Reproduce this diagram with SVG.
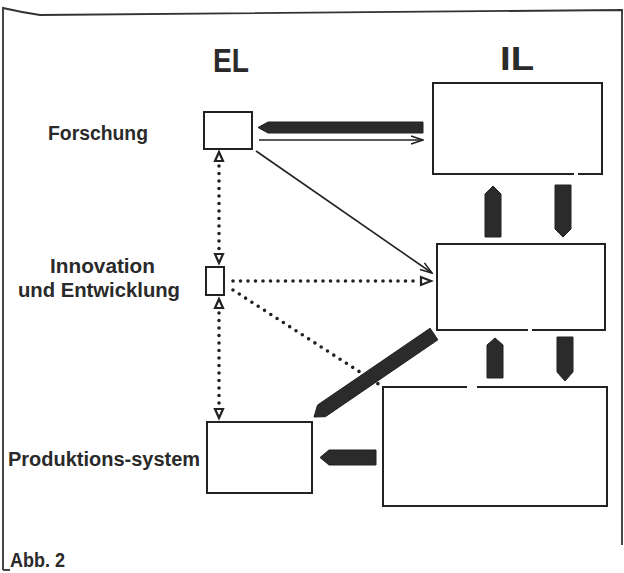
<svg xmlns="http://www.w3.org/2000/svg" width="624" height="573" viewBox="0 0 624 573">
<defs>
<style>
.box{fill:none;stroke:#222;stroke-width:2}
.frame{fill:none;stroke:#333;stroke-width:1.8}
.thick{fill:#2b2b2b;stroke:#222;stroke-width:1}
.thin{fill:none;stroke:#222;stroke-width:1.6}
.dot{fill:none;stroke:#222;stroke-width:3.6;stroke-linecap:round;stroke-dasharray:0 7.5}
.tri{fill:#fff;stroke:#222;stroke-width:2.2;stroke-linejoin:miter}
.gap{stroke:#fff;stroke-width:4}
text{font-family:"Liberation Sans",Arial,Helvetica,sans-serif;font-weight:bold;fill:#2a2a2a}
</style>
<marker id="open" viewBox="0 0 14 10" refX="13" refY="5" markerWidth="14" markerHeight="10" markerUnits="userSpaceOnUse" orient="auto">
<path d="M1,1 L13,5 L1,9" fill="none" stroke="#222" stroke-width="1.6"/>
</marker>
</defs>
<rect width="624" height="573" fill="#fff"/>
<g id="frame">
<path class="frame" d="M3,570 L3,8 Q20,12 40,15 L622,10 L622,545"/>
<path class="frame" d="M3,570 L10,570"/>
</g>
<g id="labels">
<text x="231" y="72" font-size="33" text-anchor="middle" textLength="36" lengthAdjust="spacingAndGlyphs">EL</text>
<text x="517" y="70" font-size="33" text-anchor="middle" textLength="34" lengthAdjust="spacingAndGlyphs">IL</text>
<text x="48" y="140" font-size="20" textLength="100" lengthAdjust="spacingAndGlyphs">Forschung</text>
<text x="50" y="273" font-size="20" textLength="105" lengthAdjust="spacingAndGlyphs">Innovation</text>
<text x="18" y="297" font-size="20" textLength="162" lengthAdjust="spacingAndGlyphs">und Entwicklung</text>
<text x="8" y="466" font-size="20" textLength="192" lengthAdjust="spacingAndGlyphs">Produktions-system</text>
<text x="10" y="567" font-size="21" textLength="55" lengthAdjust="spacingAndGlyphs">Abb. 2</text>
</g>
<g id="el-forschung"><rect class="box" x="204" y="112" width="48" height="37"/></g>
<g id="el-innovation"><rect class="box" x="206" y="267" width="18" height="28"/></g>
<g id="el-produktion"><rect class="box" x="207" y="422" width="105" height="71"/></g>
<g id="il-forschung">
<rect class="box" x="433" y="83" width="169" height="91"/>
<line class="gap" x1="574" y1="174" x2="578" y2="174"/>
</g>
<g id="il-innovation">
<rect class="box" x="437" y="244" width="168" height="86"/>
<line class="gap" x1="528" y1="330" x2="532" y2="330"/>
</g>
<g id="il-produktion">
<rect class="box" x="383" y="387" width="224" height="119"/>
<line class="gap" x1="467" y1="387" x2="477" y2="387"/>
</g>
<g id="connectors">
<polygon class="thick" points="423,122 268,122 258,127.5 268,133 423,133"/>
<line class="thin" x1="259" y1="140" x2="423" y2="140" marker-end="url(#open)"/>
<line class="thin" x1="256" y1="151" x2="432" y2="273" marker-end="url(#open)"/>
<line class="dot" x1="219" y1="166" x2="219" y2="250"/>
<polygon class="tri" points="219,152 215,161 223,161"/>
<polygon class="tri" points="219,263 215,254 223,254"/>
<line class="dot" x1="219" y1="313" x2="219" y2="405"/>
<polygon class="tri" points="219,299 215,308 223,308"/>
<polygon class="tri" points="219,418 215,409 223,409"/>
<line class="dot" x1="233" y1="281" x2="418" y2="281"/>
<polygon class="tri" points="431,281 421,277 421,285"/>
<line class="dot" x1="233" y1="290" x2="380" y2="385"/>
<polygon class="thick" points="314,417 325.4,416.7 437.9,339.8 430.1,328.2 317.5,405.1"/>
<polygon class="thick" points="376,450 329,450 320,457.5 329,465 376,465"/>
<polygon class="thick" points="485,237 485,194 493,186 501,194 501,237"/>
<polygon class="thick" points="555,185 571,185 571,229 563,237 555,229"/>
<polygon class="thick" points="487,378 487,345 495,338 503,345 503,378"/>
<polygon class="thick" points="557,337 573,337 573,372 565,381 557,372"/>
</g>
</svg>
